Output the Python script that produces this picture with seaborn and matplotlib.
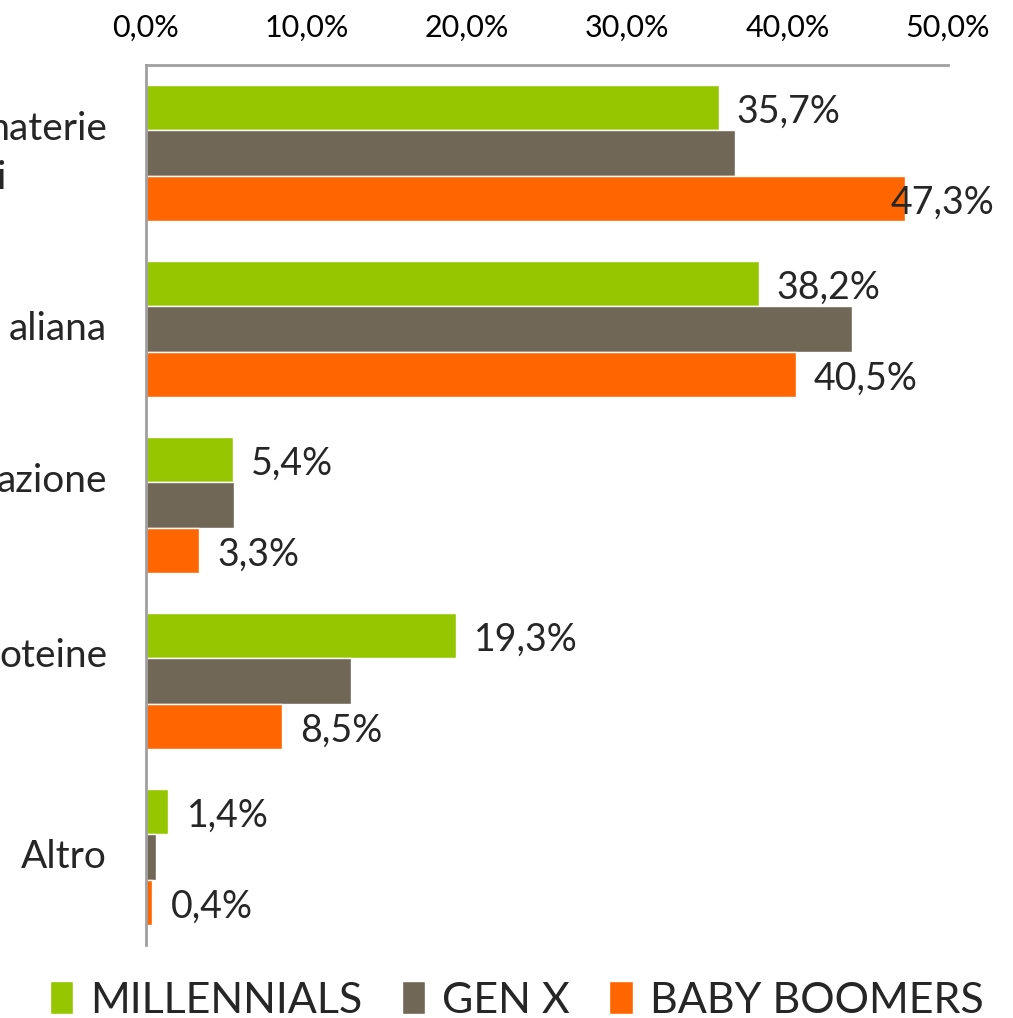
import matplotlib
matplotlib.use("Agg")
import matplotlib.pyplot as plt
import matplotlib.patches as mpatches
from matplotlib.ticker import FixedLocator, FuncFormatter
import pandas as pd
import seaborn as sns

# Data (labels are cut at the left edge in the reference)
categories = ["materie\n  i", "aliana", "azione\n ", "oteine\n ", "Altro"]
generations = ["MILLENNIALS", "GEN X", "BABY BOOMERS"]
millennials = [35.7, 38.2, 5.4, 19.3, 1.4]
gen_x = [36.7, 44.0, 5.5, 12.8, 0.6]
baby_boomers = [47.3, 40.5, 3.3, 8.5, 0.4]
colors = ["#95C600", "#716756", "#FF6600"]
x_ticks = [0, 10, 20, 30, 40, 50]

df = pd.DataFrame({
    "categoria": categories * 3,
    "generazione": [g for g in generations for _ in categories],
    "valore": millennials + gen_x + baby_boomers,
})

sns.set_style("white")
plt.rcParams["font.family"] = ["Lato", "DejaVu Sans"]

fig = plt.figure(figsize=(10.13, 10.18), dpi=100)
ax = fig.add_axes([0.1441, 0.0717, 0.7917, 0.8644])

sns.barplot(data=df, y="categoria", x="valore", hue="generazione",
            hue_order=generations, order=categories, palette=colors,
            saturation=1, orient="h", width=0.77, gap=0,
            edgecolor="white", linewidth=1, legend=False, ax=ax)

ax.set_xlim(0, 50)
ax.set_ylim(4.5, -0.5)
ax.set_xlabel("")
ax.set_ylabel("")

# x axis on top, percentage with comma decimal
ax.xaxis.tick_top()
ax.set_xticks(x_ticks)
ax.xaxis.set_major_formatter(FuncFormatter(lambda v, p: f"{v:.1f}%".replace(".", ",")))
ax.tick_params(axis="x", length=0, pad=17, labelsize=22, colors="black")

# category labels, boundary ticks as minor
ax.tick_params(axis="y", which="major", length=0, pad=28, labelsize=28)
ax.yaxis.set_minor_locator(FixedLocator([i - 0.5 for i in range(len(categories) + 1)]))
ax.tick_params(axis="y", which="minor", length=13, width=2, color="#A0A0A0")
for lab in ax.get_yticklabels():
    lab.set_multialignment("left")
    lab.set_verticalalignment("center")
    lab.set_linespacing(1.45)

for side in ["right", "bottom"]:
    ax.spines[side].set_visible(False)
for side in ["left", "top"]:
    ax.spines[side].set_color("#A0A0A0")
    ax.spines[side].set_linewidth(2)

# value labels only for millennials and baby boomers
for cont, gen in zip(ax.containers, generations):
    if gen == "GEN X":
        continue
    for bar in cont:
        v = bar.get_width()
        pad = 13 if v < 45 else -10
        ax.annotate(f"{v:.1f}%".replace(".", ","),
                    (v, bar.get_y() + bar.get_height() / 2),
                    xytext=(pad, -3), textcoords="offset points",
                    ha="left", va="center", fontsize=27, annotation_clip=False)

handles = [mpatches.Patch(facecolor=c, edgecolor="white") for c in colors]
fig.legend(handles, generations, loc="center", bbox_to_anchor=(0.51, 0.017),
           ncol=3, frameon=False, fontsize=31, handlelength=0.55, handleheight=0.8,
           handletextpad=0.4, columnspacing=0.9)

fig.savefig("out.png", dpi=100)
